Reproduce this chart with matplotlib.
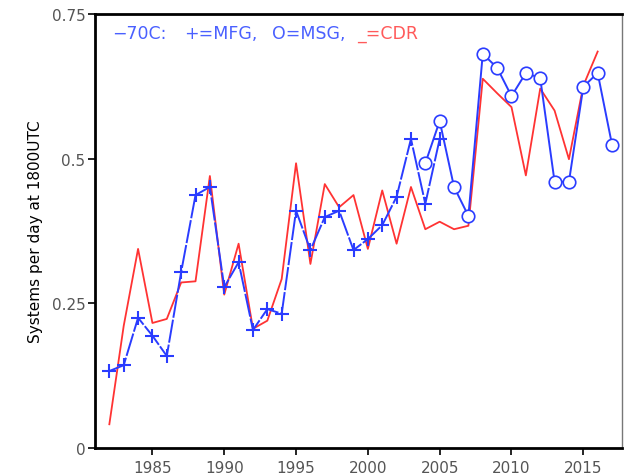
import numpy as np
from matplotlib import use
use('Agg')
import matplotlib.pyplot as plt

# -70C cold cloud systems per day at 1800UTC
mfg_years = np.arange(1982, 2006)
mfg_vals = [0.133, 0.143, 0.225, 0.194, 0.159, 0.304, 0.437, 0.451, 0.278, 0.321,
            0.204, 0.240, 0.232, 0.410, 0.342, 0.399, 0.410, 0.342, 0.361, 0.385,
            0.434, 0.534, 0.422, 0.534]

msg_years = np.arange(2004, 2018)
msg_vals = [0.492, 0.565, 0.451, 0.401, 0.681, 0.657, 0.608, 0.648, 0.639, 0.460,
            0.460, 0.624, 0.648, 0.524]

cdr_years = np.arange(1982, 2017)
cdr_vals = [0.041, 0.211, 0.344, 0.216, 0.223, 0.286, 0.288, 0.470, 0.265, 0.353,
            0.206, 0.220, 0.292, 0.492, 0.318, 0.456, 0.416, 0.437, 0.344, 0.445,
            0.353, 0.451, 0.378, 0.391, 0.378, 0.384, 0.638, 0.613, 0.589, 0.471,
            0.621, 0.583, 0.499, 0.626, 0.685]

yticks = [0, 0.25, 0.5, 0.75]
ytick_labels = ['0', '0.25', '0.5', '0.75']
xticks = [1985, 1990, 1995, 2000, 2005, 2010, 2015]

blue = '#2a3cff'
red = '#ff3333'

fig = plt.figure(figsize=(6.29, 4.77), dpi=100)
ax = fig.add_axes([0.151, 0.0587, 0.838, 0.91])

ax.plot(cdr_years, cdr_vals, color=red, lw=1.3, zorder=2)
ax.plot(mfg_years, mfg_vals, color=blue, lw=1.4, ls=(0, (12, 1)), marker='+',
        ms=9.5, mew=1.5, zorder=3)
ax.plot(msg_years, msg_vals, color=blue, lw=1.4, marker='o', ms=9,
        mfc='white', mec=blue, mew=1.2, zorder=4)

ax.set_xlim(1981.0, 2017.7)
ax.set_ylim(0, 0.75)
ax.set_xticks(xticks)
ax.set_yticks(yticks)
ax.set_yticklabels(ytick_labels)
ax.tick_params(direction='out', length=5, width=1.2, colors='black',
               labelcolor='#555555', labelsize=11)
ax.tick_params(axis='y', pad=2)
for side in ['left', 'bottom', 'top']:
    ax.spines[side].set_linewidth(2)
ax.spines['right'].set_linewidth(1)
ax.spines['right'].set_color('#777777')

ax.set_ylabel('Systems per day at 1800UTC', fontsize=11, labelpad=6)

# key written as separate words along the top
key_parts = ['\u221270C:', '+=MFG,', 'O=MSG,', '_=CDR']
key_x = [0.032, 0.170, 0.335, 0.498]
key_colors = ['#4a60ff', '#4a60ff', '#4a60ff', '#ff5a5a']
for txt, kx, kc in zip(key_parts, key_x, key_colors):
    ax.text(kx, 0.955, txt, color=kc, fontsize=12.5, transform=ax.transAxes,
            va='center', ha='left')

plt.savefig('out.png', dpi=100)
